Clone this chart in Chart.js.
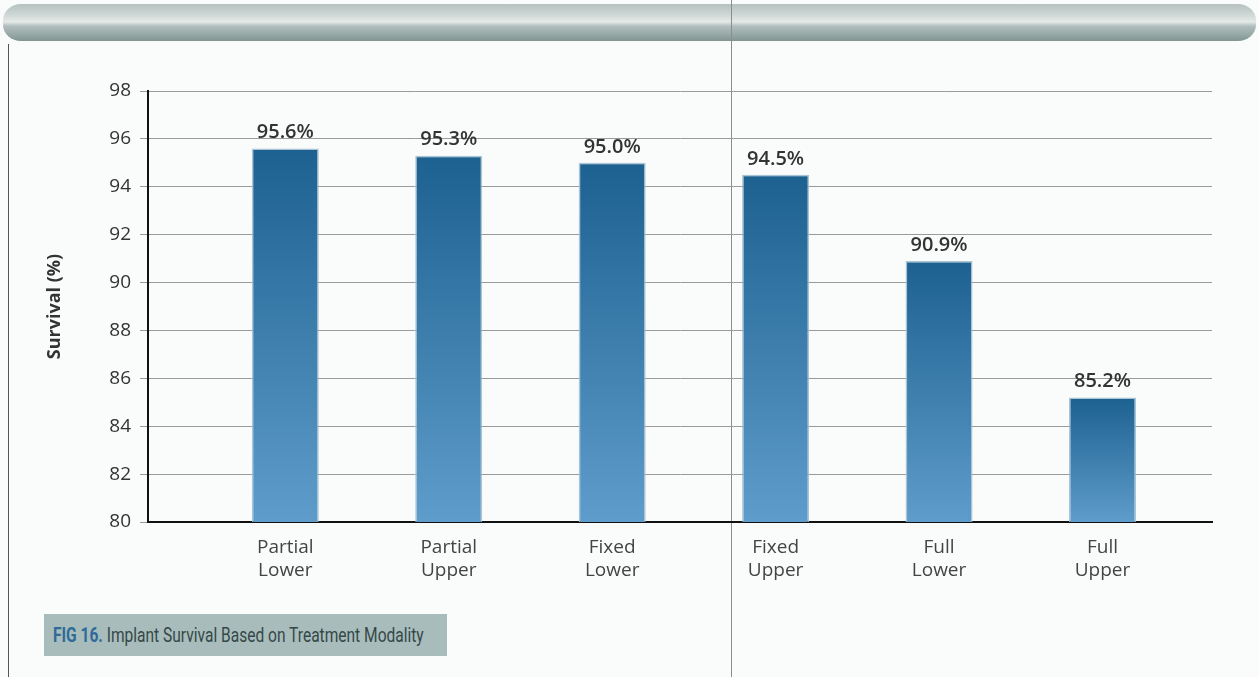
<!DOCTYPE html>
<html lang="en">
<head>
    <meta charset="UTF-8">
    <title>Implant Survival Based on Treatment Modality</title>
    <script src="https://cdn.jsdelivr.net/npm/chart.js"></script>
    <style>
        body {
            margin: 0;
            width: 1259px;
            height: 677px;
            background: #fafcfc;
            font-family: "Open Sans", Arial, sans-serif;
            position: relative;
            overflow: hidden;
        }
        .tube {
            position: absolute;
            left: 3px;
            top: 4px;
            width: 1253px;
            height: 37px;
            border-radius: 18px / 16px;
            background: linear-gradient(#b6c2c0 0%, #cad4d2 25%, #e4eae8 48%, #b0bebc 60%, #94a6a4 85%, #829492 100%);
        }
        .fold {
            position: absolute;
            left: 731px;
            top: 0;
            width: 1px;
            height: 677px;
            background: #8c8c8c;
        }
        .edge {
            position: absolute;
            left: 8px;
            top: 44px;
            width: 1px;
            height: 633px;
            background: #555;
        }
        .caption {
            position: absolute;
            left: 44px;
            top: 614px;
            width: 403px;
            height: 42px;
            background: #a8bcbb;
            box-sizing: border-box;
            padding-left: 9px;
            white-space: nowrap;
            overflow: hidden;
        }
        .caption span {
            display: inline-block;
            font-family: Roboto, "Open Sans", sans-serif;
            font-size: 21px;
            line-height: 42px;
            color: #354848;
            transform: scaleX(0.74);
            transform-origin: left center;
        }
        .caption b { color: #2e6b98; }
        #chart {
            position: absolute;
            left: 0;
            top: 0;
        }
    </style>
</head>
<body>

<div class="tube"></div>
<div class="edge"></div>
<div class="fold"></div>
<div class="caption"><span><b>FIG 16.</b> Implant Survival Based on Treatment Modality</span></div>

<canvas id="chart" width="1259" height="677"></canvas>

<script>
    // categories (two-line labels) and survival values
    const categories = [['Partial', 'Lower'], ['Partial', 'Upper'], ['Fixed', 'Lower'], ['Fixed', 'Upper'], ['Full', 'Lower'], ['Full', 'Upper']];
    const survival = [95.6, 95.3, 95.0, 94.5, 90.9, 85.2];
    const yTicks = [80, 82, 84, 86, 88, 90, 92, 94, 96, 98];

    const points = survival.map((v, i) => ({ x: i, y: v }));

    // gradient per bar: dark at the top, lighter at the base
    function barFill(ctx) {
        const chart = ctx.chart;
        const area = chart.chartArea;
        if (!area || !ctx.raw) return '#2c6f9c';
        const top = chart.scales.y.getPixelForValue(ctx.raw.y);
        const g = chart.ctx.createLinearGradient(0, top, 0, area.bottom);
        g.addColorStop(0, '#1d6190');
        g.addColorStop(1, '#5e9ccb');
        return g;
    }

    // value labels above the bars
    const valueLabels = {
        id: 'valueLabels',
        afterDatasetsDraw(chart) {
            const c = chart.ctx;
            const meta = chart.getDatasetMeta(0);
            c.save();
            c.font = '600 20px "Open Sans", Arial, sans-serif';
            c.fillStyle = '#333';
            c.textAlign = 'center';
            c.textBaseline = 'bottom';
            meta.data.forEach((bar, i) => {
                c.fillText(survival[i].toFixed(1) + '%', bar.x, bar.y - 6);
            });
            c.restore();
        }
    };

    new Chart(document.getElementById('chart'), {
        type: 'bar',
        data: {
            datasets: [{
                data: points,
                backgroundColor: barFill,
                borderColor: 'rgba(160,190,205,0.9)',
                borderWidth: 1.5,
                borderSkipped: 'bottom',
                barPercentage: 0.41,
                categoryPercentage: 1
            }]
        },
        options: {
            responsive: false,
            animation: false,
            layout: { padding: { left: 40, right: 47, top: 91, bottom: 0 } },
            plugins: {
                legend: { display: false },
                tooltip: { enabled: false }
            },
            scales: {
                x: {
                    type: 'linear',
                    offset: false,
                    min: -0.84,
                    max: 5.67,
                    afterBuildTicks(scale) {
                        scale.ticks = categories.map((c, i) => ({ value: i }));
                    },
                    afterFit(scale) { scale.height = 155; },
                    grid: { display: false, drawTicks: false },
                    border: { display: true, color: '#111', width: 2 },
                    ticks: {
                        autoSkip: false,
                        maxRotation: 0,
                        padding: 14,
                        color: '#444',
                        font: { size: 19, family: '"Open Sans", Arial, sans-serif', lineHeight: 1.2 },
                        callback: (v) => categories[v]
                    }
                },
                y: {
                    min: 80,
                    max: 98,
                    afterBuildTicks(scale) {
                        scale.ticks = yTicks.map(v => ({ value: v }));
                    },
                    afterFit(scale) { scale.width = 108; },
                    grid: { color: '#9a9a9a', lineWidth: 1, tickLength: 8 },
                    border: { display: true, color: '#111', width: 2 },
                    ticks: {
                        padding: 9,
                        color: '#333',
                        font: { size: 19, family: '"Open Sans", Arial, sans-serif' }
                    },
                    title: {
                        display: true,
                        text: 'Survival (%)',
                        color: '#333',
                        font: { size: 18, weight: 'bold', family: '"Open Sans", Arial, sans-serif' }
                    }
                }
            }
        },
        plugins: [valueLabels]
    });
</script>

</body>
</html>
